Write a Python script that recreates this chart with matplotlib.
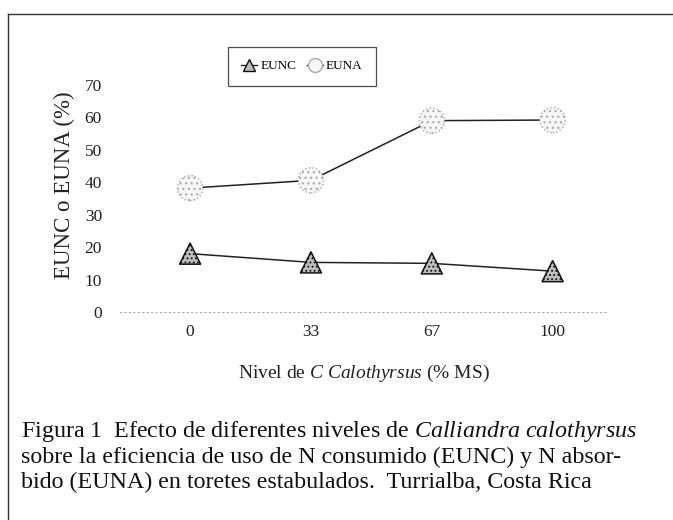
import matplotlib
matplotlib.use("Agg")
import matplotlib.pyplot as plt
from matplotlib.lines import Line2D

plt.rcParams["font.family"] = ["Liberation Serif", "DejaVu Serif"]
plt.rcParams["mathtext.fontset"] = "custom"
plt.rcParams["mathtext.rm"] = "Liberation Serif"
plt.rcParams["mathtext.it"] = "Liberation Serif:italic"
plt.rcParams["hatch.linewidth"] = 0.8

# Data
niveles = ["0", "33", "67", "100"]
eunc = [18.0, 15.3, 15.0, 12.6]
euna = [38.2, 40.6, 59.0, 59.2]
y_ticks = [0, 10, 20, 30, 40, 50, 60, 70]

W, H = 673, 520
fig = plt.figure(figsize=(W / 100, H / 100), dpi=100)
fig.patch.set_facecolor("white")

# outer frame (top and left rules)
fig.add_artist(Line2D([8 / W, 1.0], [1 - 14 / H, 1 - 14 / H], transform=fig.transFigure,
                      color="#333333", lw=1.0))
fig.add_artist(Line2D([8 / W, 8 / W], [1 - 14 / H, 0.0], transform=fig.transFigure,
                      color="#333333", lw=1.0))

ax = fig.add_axes([120 / W, 1 - 312 / H, 487 / W, (312 - 85) / H])
x = list(range(len(niveles)))

ax.plot(x, eunc, color="#222222", lw=1.1, zorder=2)
ax.plot(x, euna, color="#222222", lw=1.1, zorder=2)
ax.scatter(x, eunc, marker="^", s=230, facecolor="#bdbdbd", edgecolor="#111111",
           linewidths=1.1, hatch="....", zorder=3)
ax.scatter(x, euna, marker="o", s=330, facecolor="#f6f6f6", edgecolor="#a8a8a8",
           linewidths=1.0, linestyles=":", hatch="...", zorder=3)

ax.set_xlim(-0.58, 3.45)
ax.set_ylim(0, 70)
ax.set_xticks(x)
ax.set_xticklabels(niveles)
ax.set_yticks(y_ticks)
ax.tick_params(axis="both", length=0, labelsize=12.5, colors="#222222")
ax.tick_params(axis="y", pad=13)
ax.tick_params(axis="x", pad=9)
for side in ("top", "right", "left"):
    ax.spines[side].set_visible(False)
ax.spines["bottom"].set_linestyle((0, (1, 3)))
ax.spines["bottom"].set_color("#aaaaaa")
ax.spines["bottom"].set_linewidth(0.8)
for c in ax.collections:
    c.set_clip_on(False)

ax.set_ylabel("EUNC o EUNA (%)", fontsize=16.5, color="#222222")
ax.yaxis.set_label_coords(-0.092, 0.56)
ax.set_xlabel(r"Nivel de $C\ Calothyrsus$ (% MS)", fontsize=14, color="#222222",
              labelpad=16)

handles = [
    Line2D([], [], color="#222222", lw=1.0, marker="^", markersize=9,
           markerfacecolor="#bdbdbd", markeredgecolor="#111111"),
    Line2D([], [], color="#222222", lw=1.0, marker="o", markersize=10,
           markerfacecolor="#f6f6f6", markeredgecolor="#aaaaaa"),
]
leg = fig.legend(handles, ["EUNC", "EUNA"], loc="upper left",
                 bbox_to_anchor=(228 / W, 1 - 47 / H), borderaxespad=0, ncol=2,
                 fontsize=9.5, frameon=True, fancybox=False, edgecolor="#222222",
                 handlelength=1.2, handletextpad=0.25, columnspacing=0.8,
                 borderpad=1.0)
leg.get_frame().set_linewidth(0.9)

caption = [
    r"Figura 1  Efecto de diferentes niveles de $Calliandra\ calothyrsus$",
    "sobre la eficiencia de uso de N consumido (EUNC) y N absor-",
    "bido (EUNA) en toretes estabulados.  Turrialba, Costa Rica",
]
for i, line in enumerate(caption):
    fig.text(21 / W, 1 - (432 + 25 * i) / H, line, fontsize=17.3, color="#111111",
             ha="left", va="center")

fig.savefig("out.png", dpi=100, facecolor="white")
